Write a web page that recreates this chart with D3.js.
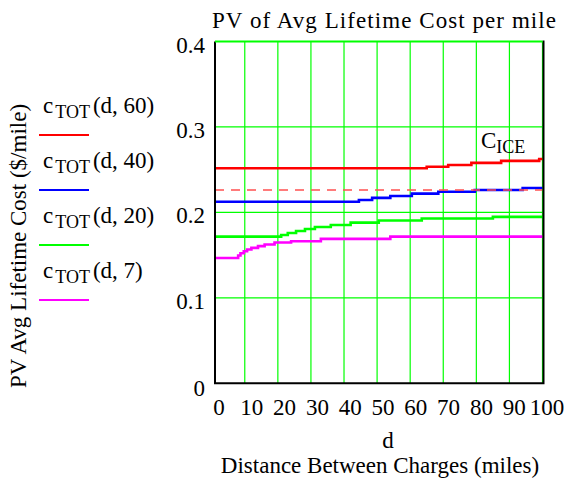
<!DOCTYPE html>
<html>
<head>
<meta charset="utf-8">
<script src="https://cdn.jsdelivr.net/npm/d3@7"></script>
<style>
  html, body { margin: 0; padding: 0; background: #fff; }
  svg { display: block; }
  text { font-family: "Liberation Serif", "Times New Roman", Times, "DejaVu Serif", serif; }
</style>
</head>
<body>
<script>
// ---- data ----
const seriesNames = ["c(d, 60)", "c(d, 40)", "c(d, 20)", "c(d, 7)"];
const legendArgs = ["(d, 60)", "(d, 40)", "(d, 20)", "(d, 7)"];
const seriesColors = ["#ff0000", "#0000ff", "#00ff00", "#ff00ff"];

const dRed = [1, 65, 71.5, 78.5, 87.5, 99, 100];
const cRed = [0.2516, 0.2535, 0.2555, 0.258, 0.2603, 0.2625, 0.2625];

const dBlue = [1, 44.5, 48.5, 54, 60.5, 68.5, 79.5, 94, 100];
const cBlue = [0.2125, 0.2145, 0.2170, 0.2192, 0.2220, 0.2242, 0.2262, 0.2285, 0.2285];

const dGreen = [1, 21, 23, 25.5, 28.2, 31.2, 36, 42, 50.5, 63.5, 85, 100];
const cGreen = [0.1716, 0.1736, 0.1759, 0.1782, 0.1806, 0.1829, 0.1853, 0.1880, 0.1905, 0.1929, 0.1948, 0.1948];

const dMag = [1, 8, 8.7, 9.7, 10.7, 12, 14, 16, 19, 24, 33, 54, 100];
const cMag = [0.1466, 0.1495, 0.1522, 0.1545, 0.1565, 0.1585, 0.1605, 0.1625, 0.1648, 0.1663, 0.1690, 0.1716, 0.1716];

const cICE = 0.2262;

const xTickValues = [0, 10, 20, 30, 40, 50, 60, 70, 80, 90, 100];
const xGridValues = [10, 20, 30, 40, 50, 60, 70, 80, 90, 100];
const yTickValues = [0, 0.1, 0.2, 0.3, 0.4];
const yTickLabels = ["0", "0.1", "0.2", "0.3", "0.4"];

// ---- chart ----
const W = 565, H = 482;
const FONT = "'Liberation Serif', 'Times New Roman', Times, 'DejaVu Serif', serif";
const FS = 23, FSUB = 18;
const svg = d3.select("body").append("svg").attr("width", W).attr("height", H)
  .attr("font-family", FONT);

const x = d3.scaleLinear().domain([1, 100]).range([215, 542.5]);
const xLab = d3.scaleLinear().domain([0, 100]).range([215, 543]);
const y = d3.scaleLinear().domain([0, 0.4]).range([383.3, 41.5]);

const gridColor = "#00ff00";

// gridlines
svg.append("g").selectAll("line.v").data(xGridValues).join("line")
  .attr("x1", d => x(d)).attr("x2", d => x(d))
  .attr("y1", y(0)).attr("y2", y(0.4))
  .attr("stroke", gridColor).attr("stroke-width", 1.2);
svg.append("g").selectAll("line.h").data(yTickValues.filter(v => v > 0)).join("line")
  .attr("x1", x(1)).attr("x2", x(100))
  .attr("y1", d => y(d)).attr("y2", d => y(d))
  .attr("stroke", gridColor).attr("stroke-width", 1.2);

// series
const line = d3.line().x(d => x(d[0])).y(d => y(d[1])).curve(d3.curveStepAfter);
const allSeries = [
  d3.zip(dRed, cRed),
  d3.zip(dBlue, cBlue),
  d3.zip(dGreen, cGreen),
  d3.zip(dMag, cMag)
];
svg.append("g").selectAll("path").data(allSeries).join("path")
  .attr("d", line)
  .attr("fill", "none")
  .attr("stroke", (d, i) => seriesColors[i])
  .attr("stroke-width", 2.6);

// ICE dashed
svg.append("line")
  .attr("x1", x(1)).attr("x2", x(100))
  .attr("y1", y(cICE)).attr("y2", y(cICE))
  .attr("stroke", "#ff5050").attr("stroke-width", 1.4)
  .attr("stroke-dasharray", "9,7");

// frame: left, bottom, right black
svg.append("path")
  .attr("d", `M${x(1)},${y(0.4)} V${y(0)} H${x(100) + 1} V${y(0.4) - 1}`)
  .attr("fill", "none").attr("stroke", "#000").attr("stroke-width", 2);
svg.append("line")
  .attr("x1", x(1)).attr("x2", x(100))
  .attr("y1", y(0.4)).attr("y2", y(0.4))
  .attr("stroke", gridColor).attr("stroke-width", 2);

// y tick labels
svg.append("g").selectAll("text").data(yTickValues).join("text")
  .attr("x", 205)
  .attr("y", d => y(d) + (d === 0 ? 13 : 11))
  .attr("text-anchor", "end")
  .attr("font-size", FS)
  .text((d, i) => yTickLabels[i]);

// x tick labels
svg.append("g").selectAll("text").data(xTickValues).join("text")
  .attr("x", d => xLab(d) + 4)
  .attr("y", 415)
  .attr("text-anchor", "middle")
  .attr("font-size", FS)
  .text(d => d);

// title
svg.append("text")
  .attr("x", 212).attr("y", 28)
  .attr("font-size", FS)
  .attr("textLength", 344).attr("lengthAdjust", "spacing")
  .text("PV of Avg Lifetime Cost per mile");

// y title
svg.append("text")
  .attr("transform", "translate(26,246) rotate(-90)")
  .attr("text-anchor", "middle")
  .attr("font-size", FS)
  .text("PV Avg Lifetime Cost ($/mile)");

// x titles
svg.append("text").attr("x", 388).attr("y", 448).attr("text-anchor", "middle")
  .attr("font-size", FS).text("d");
svg.append("text").attr("x", 380).attr("y", 473).attr("text-anchor", "middle")
  .attr("font-size", FS).text("Distance Between Charges (miles)");

// C_ICE label
const ice = svg.append("text").attr("x", 481).attr("y", 148).attr("font-size", FS);
ice.append("tspan").text("C");
ice.append("tspan").attr("font-size", FSUB).attr("dy", 5).text("ICE");

// legend
const leg = svg.append("g").selectAll("g").data(seriesNames).join("g")
  .attr("transform", (d, i) => `translate(0,${i * 55})`);
const lt = leg.append("text").attr("x", 43).attr("y", 113).attr("font-size", FS);
lt.append("tspan").text("c");
lt.append("tspan").attr("font-size", FSUB).attr("dx", 2).attr("dy", 5).text("TOT");
lt.append("tspan").attr("dx", 3).attr("dy", -5).text((d, i) => legendArgs[i]);
leg.append("line")
  .attr("x1", 39).attr("x2", 89).attr("y1", 135).attr("y2", 135)
  .attr("stroke", (d, i) => seriesColors[i]).attr("stroke-width", 2);
</script>
</body>
</html>
